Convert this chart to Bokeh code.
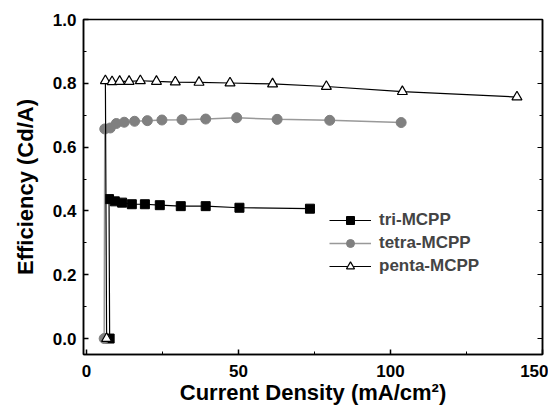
from bokeh.plotting import figure
from bokeh.models import Range1d, LinearAxis, FixedTicker, Legend, LegendItem, CustomJSTickFormatter
from bokeh.embed import file_html
from bokeh.resources import INLINE

# data
tri_x = [7.6, 7.4, 9.3, 11.7, 14.9, 19.2, 24.1, 31.0, 39.2, 50.3, 73.5]
tri_y = [0.0, 0.437, 0.430, 0.426, 0.421, 0.421, 0.418, 0.415, 0.415, 0.410, 0.407]
tetra_x = [5.8, 6.0, 7.8, 9.8, 12.4, 15.8, 20.0, 24.8, 31.4, 39.2, 49.4, 62.7, 80.0, 103.5]
tetra_y = [0.0, 0.657, 0.660, 0.674, 0.678, 0.681, 0.683, 0.685, 0.686, 0.688, 0.692, 0.687, 0.684, 0.677]
penta_x = [6.6, 6.2, 8.4, 10.9, 14.0, 17.7, 23.0, 29.2, 37.0, 47.2, 61.2, 78.9, 103.9, 141.6]
penta_y = [0.0, 0.808, 0.805, 0.806, 0.806, 0.808, 0.806, 0.804, 0.803, 0.801, 0.798, 0.790, 0.774, 0.757]
x_ticks = [0, 50, 100, 150]
y_ticks = [0.0, 0.2, 0.4, 0.6, 0.8, 1.0]
labels = ["tri-MCPP", "tetra-MCPP", "penta-MCPP"]

FONT = "Liberation Sans"

p = figure(frame_width=459, frame_height=335, output_backend="svg", toolbar_location=None,
           x_range=Range1d(-1, 150), y_range=Range1d(-0.05, 1.0),
           min_border_left=83, min_border_top=19, min_border_right=6, min_border_bottom=50)
p.xgrid.visible = False
p.ygrid.visible = False
p.outline_line_color = "black"
p.outline_line_width = 1.5
p.background_fill_color = "white"
p.border_fill_color = "white"

for ax in (p.xaxis[0], p.yaxis[0]):
    ax.major_tick_in = 5
    ax.major_tick_out = 0
    ax.minor_tick_in = 3
    ax.minor_tick_out = 0
    ax.axis_line_width = 1.5
    ax.major_tick_line_width = 1.5
    ax.major_label_text_font = FONT
    ax.major_label_text_font_style = "bold"
    ax.major_label_text_font_size = "17px"
    ax.major_label_text_color = "black"
    ax.axis_label_text_font = FONT
    ax.axis_label_text_font_style = "bold"
    ax.axis_label_text_font_size = "22px"
    ax.axis_label_text_color = "black"

p.xaxis[0].ticker = FixedTicker(ticks=x_ticks, minor_ticks=[25, 75, 125])
p.yaxis[0].ticker = FixedTicker(ticks=y_ticks, minor_ticks=[0.1, 0.3, 0.5, 0.7, 0.9])
p.yaxis[0].formatter = CustomJSTickFormatter(code="return tick.toFixed(1);")
p.xaxis[0].axis_label = "Current Density (mA/cm\u00b2)"
p.yaxis[0].axis_label = "Efficiency (Cd/A)"
p.xaxis[0].major_label_standoff = 10
p.yaxis[0].major_label_standoff = 7
p.xaxis[0].axis_label_standoff = 0
p.yaxis[0].axis_label_standoff = 12

ra = LinearAxis(ticker=FixedTicker(ticks=y_ticks, minor_ticks=[0.1, 0.3, 0.5, 0.7, 0.9]),
                formatter=CustomJSTickFormatter(code="return '';"),
                major_tick_in=5, major_tick_out=0,
                minor_tick_in=3, minor_tick_out=0, axis_line_width=1.5, major_label_standoff=0)
p.add_layout(ra, "right")

l1 = p.line(tri_x, tri_y, line_color="black", line_width=1.2)
s1 = p.scatter(tri_x, tri_y, marker="square", size=9, fill_color="black", line_color="black")
l2 = p.line(tetra_x, tetra_y, line_color="#999999", line_width=1.5)
s2 = p.scatter(tetra_x, tetra_y, marker="circle", size=10, fill_color="#808080", line_color="#808080")
l3 = p.line(penta_x, penta_y, line_color="black", line_width=1.2)
s3 = p.scatter(penta_x, penta_y, marker="triangle", size=10, fill_color="white", line_color="black", line_width=1.2)

legend = Legend(items=[LegendItem(label=labels[0], renderers=[l1, s1]),
                       LegendItem(label=labels[1], renderers=[l2, s2]),
                       LegendItem(label=labels[2], renderers=[l3, s3])],
                location=(246, 78), glyph_width=42, glyph_height=20, spacing=3,
                label_text_font=FONT, label_text_font_style="bold", label_text_font_size="17px",
                border_line_alpha=0, background_fill_alpha=0, padding=0, margin=0, label_standoff=8)
p.add_layout(legend)

open("out.html", "w").write(file_html(p, INLINE))
